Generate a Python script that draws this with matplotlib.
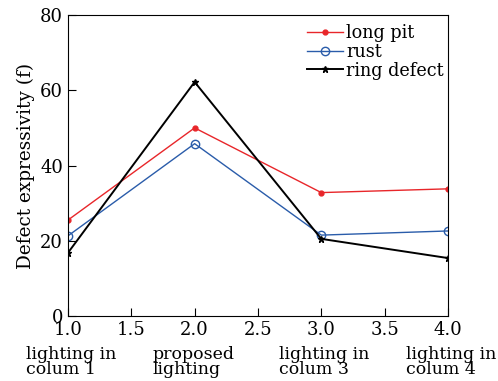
import matplotlib
matplotlib.use("Agg")
import matplotlib.pyplot as plt

x = [1, 2, 3, 4]
long_pit = [25.5, 50.0, 32.8, 33.8]
rust = [21.3, 45.8, 21.5, 22.6]
ring_defect = [16.8, 62.2, 20.5, 15.4]
categories = ["lighting in\ncolum 1", "proposed\nlighting", "lighting in\ncolum 3", "lighting in\ncolum 4"]

plt.rcParams['font.family'] = ['DejaVu Serif']
plt.rcParams['mathtext.fontset'] = 'dejavuserif'

fig = plt.figure(figsize=(4.98, 3.81), dpi=100)
ax = fig.add_axes([0.1365, 0.1706, 0.763, 0.79])

ax.plot(x, long_pit, color='#e8262a', marker='o', markersize=3.5, lw=1.0, label='long pit')
ax.plot(x, rust, color='#2a5caa', marker='o', markersize=6, mfc='none', mew=1.0, lw=1.0, label='rust')
ax.plot(x, ring_defect, color='black', marker='*', markersize=5, lw=1.4, label='ring defect')

ax.set_xlim(1, 4)
ax.set_ylim(0, 80)
ax.set_xticks([1.0, 1.5, 2.0, 2.5, 3.0, 3.5, 4.0])
ax.set_yticks([0, 20, 40, 60, 80])
ax.tick_params(direction='in', length=6, labelsize=13, top=False, right=False)
ax.set_ylabel('Defect expressivity (f)', fontsize=13.3, labelpad=4)

for xi, c in zip(x, categories):
    ax.annotate(c, xy=(xi, 0), xycoords=('data', 'axes fraction'), xytext=(-42, -30),
                textcoords='offset pixels', ha='left', va='top', fontsize=12.5, linespacing=0.85)

ax.legend(loc='upper right', bbox_to_anchor=(1.012, 1.0), frameon=False, fontsize=12.7,
          handlelength=2.0, handletextpad=0.2, labelspacing=0.05, borderaxespad=0.1)

fig.savefig('out.png', dpi=100)
